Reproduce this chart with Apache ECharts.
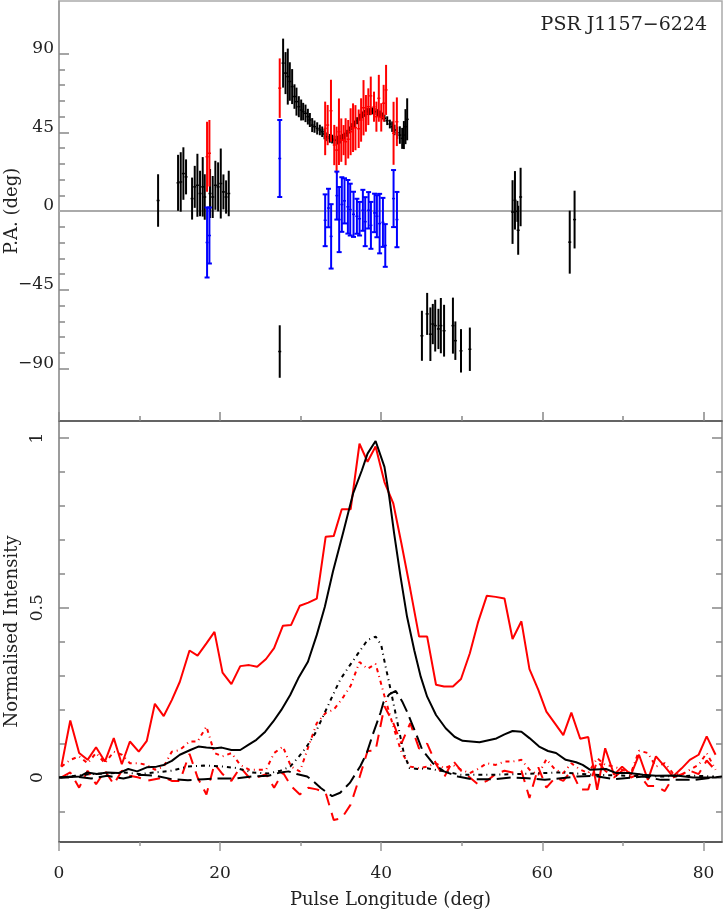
<!DOCTYPE html>
<html>
<head>
<meta charset="utf-8">
<script src="https://cdn.jsdelivr.net/npm/echarts@6.0.0/dist/echarts.min.js"></script>
<style>
  html, body { margin: 0; padding: 0; background: #fff; }
  #chart { width: 724px; height: 909px; }
</style>
</head>
<body>
<div id="chart"></div>
<script>
// pulse longitude range (deg)
const lonMin = 0;
const lonMax = 82.3;
const lonTicks = [0, 20, 40, 60, 80];
const lonMinor = [10, 30, 50, 70];

// P.A. axis ticks
const paTicks = [-90, -45, 0, 45, 90];
const paMinor = [-81, -72, -63, -54, -36, -27, -18, -9, 9, 18, 27, 36, 54, 63, 72, 81];

// intensity axis ticks
const intTicks = [0, 0.5, 1];
const intMinor = [-0.1, 0.1, 0.2, 0.3, 0.4, 0.6, 0.7, 0.8, 0.9];

// black P.A. points
const blackLon = [12.3,
  14.78, 15.11, 15.44, 15.77, 16.52, 16.85, 17.18, 17.51, 17.84, 18.09, 18.75, 19.08, 19.41, 19.75, 20.08, 20.41, 20.74, 21.07,
  27.4,
  27.82, 28.12, 28.40, 28.65, 28.94, 29.23, 29.48, 29.77, 30.06, 30.31, 30.60, 30.89, 31.14, 31.43, 31.72, 32.05, 32.38, 32.67,
  32.96, 33.29, 33.62, 33.91, 34.20, 34.53, 34.86, 35.15, 35.44, 35.77, 36.10, 36.39, 36.68, 37.01, 37.35, 37.63, 37.93, 38.26,
  38.59, 38.88, 39.17, 39.50, 39.83, 40.12, 40.41, 40.74, 41.07, 41.36, 41.65, 41.98, 42.31, 42.60, 42.81, 43.01, 43.22,
  45.05, 45.7, 46.1, 46.4, 46.7, 47.1, 47.4, 47.8, 48.9, 49.2, 49.9, 51.0,
  56.3, 56.6, 56.9, 57.0, 57.3,
  63.4, 64.0];
const blackPA = [6,
  16.1, 16.6, 21.4, 19.5, 7.1, 13.8, 14.7, 10, 13.8, 8, 10, 8, 14.7, 13.8, 15.7, 10.9, 8, 10,
  -80.3,
  84.5, 78.8, 76.8, 74, 71.1, 65.4, 62.5, 59.6, 57.7, 56.8, 55.8, 53.9, 52, 49.1, 48.2, 47.2, 46.3, 45.3,
  44, 42.4, 41.5, 41.1, 40.5, 40.5, 41.1, 42.1, 42.8, 44.4, 46.3, 48.2, 49.7, 51.6, 53.6, 54.9, 55.8, 56.8,
  56.8, 57.2, 56.8, 56.2, 55.4, 54.3, 53, 51.6, 49.7, 48.2, 46.3, 44.7, 43.4, 41.5, 43.4, 48.2, 52.4,
  -71.3, -58.8, -70.4, -64.6, -65.5, -67.4, -65.5, -68.4, -65.5, -74.1, -79.9, -79,
  -0.6, 6.1, -0.2, -11, 8,
  -17.8, -4.9];
const blackErr = [15,
  16, 17, 15, 10, 12, 12, 18, 13, 17, 13, 14, 12, 14, 14, 20, 10, 9.5, 13,
  15,
  14, 12, 16, 11, 10, 7, 8, 6, 6, 5, 5, 4.5, 4, 4, 3.5, 3.5, 3, 3,
  3, 2.5, 2.5, 2.5, 2.5, 2.5, 2.5, 2, 2, 2, 2, 2, 2, 2, 2, 2, 2, 2,
  2, 2, 2, 2, 2, 2, 2, 2.5, 2.5, 3, 3, 3.5, 5, 6, 8, 10, 12,
  14.3, 12, 15.3, 11.5, 14.8, 11.5, 15.8, 14.8, 16, 11, 12.4, 12.4,
  18.2, 16.7, 6, 14, 16.7,
  18, 16.5];

// red P.A. points
const redLon = [18.38, 18.67, 27.4,
  33.04, 33.35, 33.76, 34.17, 34.46, 34.75, 35.04, 35.33, 35.58, 35.9, 36.2, 36.5, 36.8, 37.2,
  37.5, 37.8, 38.1, 38.4, 38.7, 39.1, 39.4, 39.7, 40.0, 40.3, 40.6, 41.53, 41.94];
const redPA = [31, 33, 70.2,
  47.2, 49.1, 57.3, 37.7, 34.8, 45.3, 40.5, 40.5, 39.6, 41, 45.3, 47.6, 47.6, 47,
  52, 59, 55.8, 59.6, 65.8, 59.6, 53.9, 64.4, 53.5, 61.6, 69.2, 44.4, 51];
const redErr = [20, 19, 17,
  15.3, 11.5, 17.7, 11.5, 13.4, 19, 12.4, 8.6, 13.4, 11, 13.4, 13.9, 12.9, 11,
  12.4, 15.8, 10.5, 10.5, 11, 8.6, 8.6, 13.4, 8.1, 10.5, 14.3, 18, 13.9];

// blue P.A. points
const blueLon = [18.38, 18.67, 27.4,
  33.04, 33.45, 33.78, 34.49, 34.78, 35.11, 35.44, 35.86, 36.15, 36.56, 36.98, 37.31,
  37.72, 38.01, 38.43, 38.72, 39.17, 39.46, 39.80, 40.21, 40.50, 41.53, 41.95];
const bluePA = [-18, -14, 30,
  -5.3, 1.7, -14.5, 8.8, -4.9, 3.7, 5.8, 2.4, 0.8, -1.9, -3, -4.4,
  0.4, -6.1, 0.4, -8.2, -1.1, -3, -7.2, -6.5, -19.7, 7.1, -4.9];
const blueErr = [20, 16, 22,
  14.8, 11, 18.4, 13.7, 18.6, 15.6, 12.9, 15.3, 14.8, 12.9, 10, 9.6,
  11.7, 14, 10.4, 13.4, 11, 12, 17, 14, 12.2, 16.3, 15.8];

// black profiles (fine resolution)
const blackILon = [0.2, 2.6, 3.5, 4.7, 6, 7.4, 8.6, 9.7, 10.9, 12.1, 13, 14, 15, 16.3, 17.3, 18.3, 19.4, 20.2, 21.4, 22.5,
  23.5, 24.5, 25.6, 26.6, 27.6, 28.7, 29.7, 30.9, 32, 33, 34, 35.3, 36.5, 37.6, 38.3, 39.3, 40.4, 41, 41.6, 42.4,
  43.2, 44.1, 44.9, 45.7, 46.8, 48, 49.1, 50.1, 52.2, 54.3, 55.3, 56.3, 57.4, 58.4, 59.6, 60.7, 61.7, 62.9, 64.2, 65,
  65.9, 67.9, 69.2, 70.8, 72.5, 74.1, 76.6, 78.7, 79.9, 81.5, 82.3];
const blackI = [0, 0.003, 0.015, 0.01, 0.015, 0.013, 0.025, 0.018, 0.03, 0.032, 0.037, 0.049, 0.067, 0.081, 0.091, 0.088, 0.086, 0.088, 0.081, 0.081,
  0.096, 0.111, 0.135, 0.165, 0.199, 0.243, 0.292, 0.341, 0.42, 0.503, 0.606, 0.724, 0.836, 0.905, 0.954, 0.991, 0.915, 0.826, 0.719, 0.591,
  0.474, 0.375, 0.297, 0.238, 0.184, 0.145, 0.12, 0.108, 0.104, 0.115, 0.127, 0.137, 0.135, 0.116, 0.091, 0.078, 0.072, 0.052, 0.045, 0.037,
  0.023, 0.025, 0.013, 0.013, 0.008, 0.005, 0.006, 0, 0, 0.001, 0.003];

const blackLLon = [0, 2, 4, 6, 8, 10, 12, 14, 16, 18, 20, 22, 24, 26, 27.5, 28.7, 29.8, 30.8, 31.8, 33.3, 34.1, 34.9, 36.0, 37.0,
  38.3, 39.3, 40.0, 40.5, 40.9, 41.6, 42.2, 42.8, 43.5, 44.5, 45.7, 47.8, 49.9, 54, 58.2, 62.3, 66.4, 70.6, 74.7, 78.8, 81.3];
const blackL = [0, 0.005, 0.01, 0.012, 0.015, 0.01, 0.015, 0.02, 0.032, 0.035, 0.033, 0.028, 0.015, 0.012, 0.02, 0.032, 0.062, 0.093, 0.13, 0.207, 0.248, 0.288, 0.327, 0.361,
  0.405, 0.415, 0.39, 0.331, 0.288, 0.209, 0.14, 0.072, 0.028, 0.025, 0.027, 0.018, 0.008, 0.008, 0.011, 0.015, 0.008, 0.005, 0.003, 0.005, 0.003];

const blackVLon = [0, 2, 4, 6, 8, 10, 12, 14, 16, 18, 20, 22, 24, 26, 27.5, 28.5, 29.5, 30.8, 31.5, 32.5, 33.9, 34.9, 36.1, 37.4,
  38.2, 39.0, 39.9, 40.3, 41.0, 41.8, 42.6, 43.2, 44.3, 45.1, 46.4, 47.8, 49.5, 51.2, 54, 56.1, 58.2, 60.3, 62.3, 64.4, 66.4,
  68.9, 72.6, 74.7, 78.8, 81.3];
const blackV = [0, 0.003, -0.003, 0.005, -0.003, 0.008, 0.005, -0.005, -0.008, -0.005, -0.003, -0.003, 0.003, 0.005, 0.015, 0.018, 0.01, 0.003, -0.01, -0.031, -0.055, -0.045, -0.016, 0.033,
  0.072, 0.13, 0.19, 0.223, 0.245, 0.255, 0.224, 0.194, 0.13, 0.081, 0.042, 0.018, 0.003, -0.005, -0.005, 0, -0.002, -0.007, -0.002, 0.003, 0.005,
  -0.005, 0.003, -0.007, -0.007, 0];

// red profiles (coarse bins)
const redBinLon = [0.29, 1.4, 2.5, 3.55, 4.6, 5.7, 6.8, 7.8, 8.8, 9.9, 10.9, 11.9, 13.0, 14.0, 15.0, 16.2, 17.2, 18.3, 19.3, 20.3,
  21.4, 22.5, 23.6, 24.6, 25.7, 26.7, 27.8, 28.8, 29.9, 30.95, 32.0, 33.1, 34.1, 35.1, 36.2, 37.3, 38.3, 39.3, 40.4, 41.5,
  42.5, 43.6, 44.7, 45.7, 46.8, 47.8, 48.9, 49.9, 51.0, 52.0, 53.1, 54.2, 55.3, 56.3, 57.4, 58.4, 59.5, 60.5, 61.6, 62.6,
  63.6, 64.7, 65.7, 66.8, 67.8, 68.9, 69.9, 71.0, 72.0, 73.1, 74.1, 75.2, 76.2, 77.3, 78.3, 79.4, 80.4, 81.5];
const redI = [0.032, 0.168, 0.072, 0.052, 0.089, 0.047, 0.116, 0.039, 0.106, 0.076, 0.108, 0.217, 0.181, 0.228, 0.282, 0.374, 0.359, 0.395, 0.429, 0.309,
  0.275, 0.328, 0.331, 0.326, 0.349, 0.381, 0.447, 0.449, 0.506, 0.515, 0.527, 0.709, 0.711, 0.79, 0.79, 0.983, 0.93, 0.975, 0.87, 0.807,
  0.69, 0.555, 0.415, 0.415, 0.273, 0.268, 0.268, 0.29, 0.366, 0.456, 0.535, 0.532, 0.527, 0.408, 0.46, 0.319, 0.258, 0.194, 0.158, 0.125,
  0.191, 0.114, 0.119, -0.036, 0.086, 0.008, 0.032, 0.008, 0.067, -0.007, 0.062, 0.032, 0.003, 0.027, 0.052, 0.067, 0.121, 0.067];
const redL = [0.032, 0.052, 0.062, 0.042, 0.072, 0.042, 0.076, 0.067, 0.042, 0.042, 0.037, 0.023, 0.032, 0.076, 0.081, 0.106, 0.106, 0.15, 0.072, 0.062,
  0.072, 0.037, 0.023, 0.023, 0.023, 0.072, 0.091, 0.032, 0.018, 0.09, 0.16, 0.19, 0.2, 0.23, 0.27, 0.34, 0.32, 0.335, 0.24, 0.15,
  0.075, 0.032, 0.027, 0.032, 0.042, 0.027, 0.037, 0.023, 0.013, 0.025, 0.042, 0.037, 0.047, 0.047, 0.052, 0.023, 0.008, 0.054, 0.023, 0.013,
  0.042, 0.023, 0.013, 0.057, 0.037, 0.032, 0.023, 0.013, 0.079, 0.072, 0.032, 0.042, 0.013, 0.008, 0.023, 0.037, 0.072, 0.023];
const redV = [0, 0.015, -0.03, 0.02, -0.02, 0.02, -0.02, 0.02, 0.005, 0, -0.01, -0.005, 0, -0.01, -0.01, 0.07, 0, -0.05, 0.04, 0.01,
  -0.01, 0.03, 0, 0, 0.01, -0.03, 0.015, -0.025, -0.05, -0.03, -0.035, -0.045, -0.125, -0.12, -0.08, 0, 0.078, 0.08, 0.21, 0.16,
  0.1, 0.16, 0.085, 0.1, 0.04, 0, 0.05, 0.02, 0, -0.02, -0.01, 0.01, 0.02, 0.015, 0.02, -0.06, 0.03, -0.03, 0, -0.01,
  0.02, -0.035, -0.035, 0.05, 0.02, 0, 0.02, 0, 0.01, -0.025, -0.025, -0.04, 0, 0.01, 0.02, 0.01, 0.05, 0.02];

const serif = "DejaVu Serif";

function pairs(xs, ys) {
  return xs.map((x, i) => [x, ys[i]]);
}
function triples(xs, ys, es) {
  return xs.map((x, i) => [x, ys[i], es[i]]);
}

// error bar drawn through the axis scales
function errBar(color, cap) {
  return function (params, api) {
    let x = api.value(0), y = api.value(1), e = api.value(2);
    let hi = api.coord([x, y + e]);
    let lo = api.coord([x, y - e]);
    let c = api.coord([x, y]);
    let kids = [
      { type: "line", shape: { x1: lo[0], y1: lo[1], x2: hi[0], y2: hi[1] }, style: { stroke: color, lineWidth: 2 } },
      { type: "line", shape: { x1: c[0] - 1.5, y1: c[1], x2: c[0] + 1.5, y2: c[1] }, style: { stroke: color, lineWidth: 1.5 } },
    ];
    if (cap) {
      kids.push({ type: "line", shape: { x1: hi[0] - 2.5, y1: hi[1], x2: hi[0] + 2.5, y2: hi[1] }, style: { stroke: color, lineWidth: 2 } });
      kids.push({ type: "line", shape: { x1: lo[0] - 2.5, y1: lo[1], x2: lo[0] + 2.5, y2: lo[1] }, style: { stroke: color, lineWidth: 2 } });
    }
    return { type: "group", children: kids };
  };
}

function tickAxis(base, extra) {
  return Object.assign({
    type: "value",
    min: base.min,
    max: base.max,
    gridIndex: base.gridIndex,
    splitLine: { show: false },
    axisLine: { show: false, onZero: false },
    axisLabel: { show: false },
  }, extra);
}

let chart = echarts.init(document.getElementById("chart"));

let topX = { min: lonMin, max: lonMax, gridIndex: 0 };
let botX = { min: lonMin, max: lonMax, gridIndex: 1 };
let topY = { min: -120, max: 120, gridIndex: 0 };
let botY = { min: -0.19, max: 1.05, gridIndex: 1 };

chart.setOption({
  animation: false,
  textStyle: { fontFamily: serif },
  title: {
    text: "PSR J1157\u22126224",
    right: 12,
    top: 11,
    textStyle: { fontFamily: serif, fontSize: 19, fontWeight: "normal", color: "#222" },
  },
  grid: [
    { left: 59, top: 1, width: 663, height: 420, show: true, borderColor: "#aaa", borderWidth: 1.5, outerBoundsMode: "none", containLabel: false },
    { left: 59, top: 421, width: 663, height: 421, show: true, borderColor: "#888", borderWidth: 1.5, outerBoundsMode: "none", containLabel: false },
  ],
  xAxis: [
    // top panel, major ticks pointing up
    tickAxis(topX, {
      position: "bottom",
      axisLine: { show: true, onZero: false, lineStyle: { color: "#555", width: 1.5 } },
      axisTick: { show: true, inside: true, length: 9, customValues: lonTicks, lineStyle: { color: "#888", width: 1.5 } },
    }),
    tickAxis(topX, {
      position: "bottom",
      axisTick: { show: true, inside: true, length: 5, customValues: lonMinor, lineStyle: { color: "#888", width: 1.5 } },
    }),
    // bottom panel
    tickAxis(botX, {
      position: "bottom",
      name: "Pulse Longitude (deg)",
      nameLocation: "middle",
      nameGap: 49,
      nameMoveOverlap: false,
      nameTextStyle: { fontFamily: serif, fontSize: 18, color: "#222" },
      axisLine: { show: true, onZero: false, lineStyle: { color: "#444", width: 1.5 } },
      axisTick: { show: true, inside: false, length: 9, customValues: lonTicks, lineStyle: { color: "#999", width: 1.5 } },
      axisLabel: { show: true, customValues: lonTicks, margin: 23, fontFamily: serif, fontSize: 17, color: "#222" },
    }),
    tickAxis(botX, {
      position: "bottom",
      axisTick: { show: true, inside: false, length: 4, customValues: lonMinor, lineStyle: { color: "#999", width: 1.5 } },
    }),
  ],
  yAxis: [
    tickAxis(topY, {
      position: "left",
      name: "P.A. (deg)",
      nameLocation: "middle",
      nameGap: 38,
      nameMoveOverlap: false,
      nameTextStyle: { fontFamily: serif, fontSize: 18, color: "#222" },
      axisLine: { show: true, onZero: false, lineStyle: { color: "#999", width: 1.5 } },
      axisTick: { show: true, inside: true, length: 10, customValues: paTicks, lineStyle: { color: "#888", width: 1.5 } },
      axisLabel: {
        show: true, customValues: paTicks, margin: 5, fontFamily: serif, fontSize: 17, color: "#222",
        verticalAlign: "bottom", lineHeight: 10,
        formatter: (v) => String(v).replace("-", "\u2212"),
      },
    }),
    tickAxis(topY, {
      position: "left",
      axisTick: { show: true, inside: true, length: 6, customValues: paMinor, lineStyle: { color: "#888", width: 1.5 } },
    }),
    tickAxis(botY, {
      position: "left",
      name: "Normalised Intensity",
      nameLocation: "middle",
      nameGap: 38,
      nameMoveOverlap: false,
      nameTextStyle: { fontFamily: serif, fontSize: 18, color: "#222" },
      axisLine: { show: true, onZero: false, lineStyle: { color: "#999", width: 1.5 } },
      axisTick: { show: true, inside: true, length: 10, customValues: intTicks, lineStyle: { color: "#888", width: 1.5 } },
      axisLabel: { show: true, customValues: intTicks, rotate: 90, margin: 13, fontFamily: serif, fontSize: 17, color: "#222" },
    }),
    tickAxis(botY, {
      position: "left",
      axisTick: { show: true, inside: true, length: 6, customValues: intMinor, lineStyle: { color: "#888", width: 1.5 } },
    }),
    tickAxis(botY, {
      position: "right",
      axisTick: { show: true, inside: true, length: 10, customValues: intTicks, lineStyle: { color: "#888", width: 1.5 } },
    }),
    tickAxis(botY, {
      position: "right",
      axisTick: { show: true, inside: true, length: 6, customValues: intMinor, lineStyle: { color: "#888", width: 1.5 } },
    }),
  ],
  series: [
    // zero line of the P.A. panel
    {
      type: "line", xAxisIndex: 0, yAxisIndex: 0, z: 1, showSymbol: false, silent: true,
      data: [[lonMin, 0], [lonMax, 0]],
      lineStyle: { color: "#aaa", width: 2 },
    },
    {
      type: "custom", name: "PA", xAxisIndex: 0, yAxisIndex: 0, z: 3,
      renderItem: errBar("#000", false), encode: { x: 0, y: 1 },
      data: triples(blackLon, blackPA, blackErr),
    },
    {
      type: "custom", name: "PA red", xAxisIndex: 0, yAxisIndex: 0, z: 4,
      renderItem: errBar("#ff0000", false), encode: { x: 0, y: 1 },
      data: triples(redLon, redPA, redErr),
    },
    {
      type: "custom", name: "PA blue", xAxisIndex: 0, yAxisIndex: 0, z: 4,
      renderItem: errBar("#0000ff", true), encode: { x: 0, y: 1 },
      data: triples(blueLon, bluePA, blueErr),
    },
    // profiles
    {
      type: "line", xAxisIndex: 2, yAxisIndex: 2, showSymbol: false, z: 5,
      data: pairs(blackILon, blackI), lineStyle: { color: "#000", width: 2 },
    },
    {
      type: "line", xAxisIndex: 2, yAxisIndex: 2, showSymbol: false, z: 5,
      data: pairs(blackLLon, blackL), lineStyle: { color: "#000", width: 2, type: [4, 4, 1, 4] },
    },
    {
      type: "line", xAxisIndex: 2, yAxisIndex: 2, showSymbol: false, z: 5,
      data: pairs(blackVLon, blackV), lineStyle: { color: "#000", width: 2, type: [14, 6] },
    },
    {
      type: "line", xAxisIndex: 2, yAxisIndex: 2, showSymbol: false, z: 4,
      data: pairs(redBinLon, redI), lineStyle: { color: "#ff0000", width: 2 },
    },
    {
      type: "line", xAxisIndex: 2, yAxisIndex: 2, showSymbol: false, z: 4,
      data: pairs(redBinLon, redL), lineStyle: { color: "#ff0000", width: 2, type: [4, 4, 1, 4] },
    },
    {
      type: "line", xAxisIndex: 2, yAxisIndex: 2, showSymbol: false, z: 4,
      data: pairs(redBinLon, redV), lineStyle: { color: "#ff0000", width: 2, type: [12, 8] },
    },
  ],
});

window.addEventListener("resize", () => {
  chart.resize();
});
</script>
</body>
</html>
